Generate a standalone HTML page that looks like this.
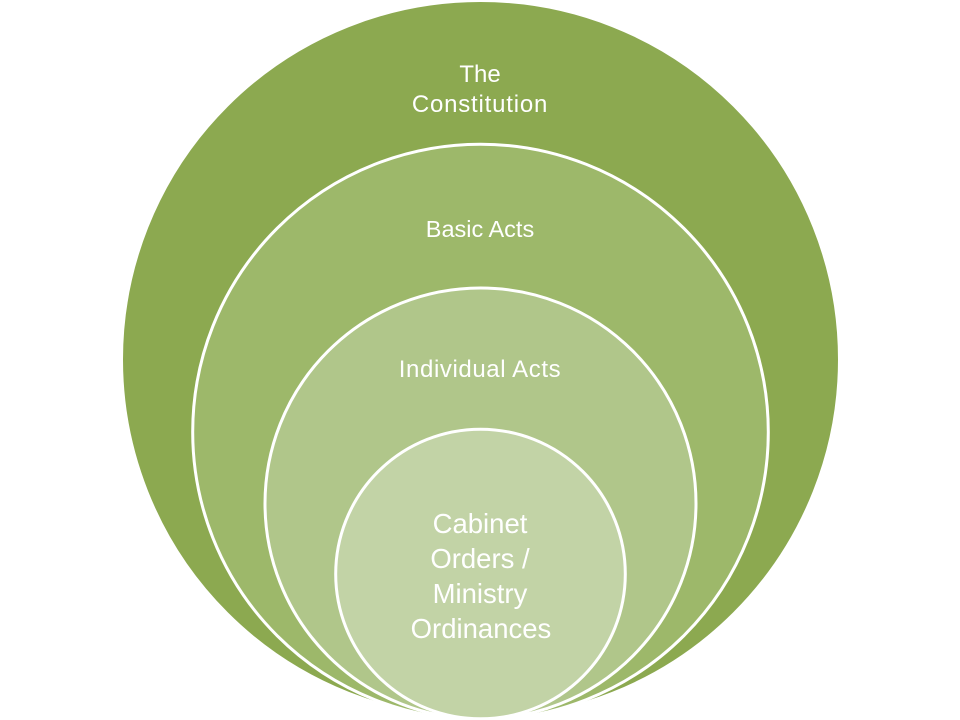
<!DOCTYPE html>
<html>
<head>
<meta charset="utf-8">
<style>
html,body{margin:0;padding:0;background:#fff;}
svg{display:block;}
text{font-family:"Liberation Sans",sans-serif;fill:#fff;}
</style>
</head>
<body>
<svg width="960" height="720" viewBox="0 0 960 720" xmlns="http://www.w3.org/2000/svg">
  <rect width="960" height="720" fill="#fff"/>
  <circle cx="480.5" cy="359.5" r="358.5" fill="#8CA950" stroke="#fff" stroke-width="2"/>
  <circle cx="480.5" cy="432" r="287.8" fill="#9DB86A" stroke="#fff" stroke-width="3"/>
  <circle cx="480.5" cy="503.5" r="215.5" fill="#B0C68A" stroke="#fff" stroke-width="3"/>
  <circle cx="480.5" cy="574" r="144.8" fill="#C2D3A6" stroke="#fff" stroke-width="3"/>

  <text x="480" y="82" font-size="24" text-anchor="middle">The</text>
  <text x="480" y="112" font-size="24" text-anchor="middle" letter-spacing="0.8">Constitution</text>
  <text x="480" y="237" font-size="23.5" text-anchor="middle">Basic Acts</text>
  <text x="480" y="377" font-size="24" text-anchor="middle" letter-spacing="0.6">Individual Acts</text>

  <text x="480" y="533" font-size="27.5" text-anchor="middle">Cabinet</text>
  <text x="480" y="568" font-size="27.5" text-anchor="middle">Orders /</text>
  <text x="480" y="603" font-size="27.5" text-anchor="middle">Ministry</text>
  <text x="481" y="638" font-size="27.5" text-anchor="middle">Ordinances</text>
</svg>
</body>
</html>
